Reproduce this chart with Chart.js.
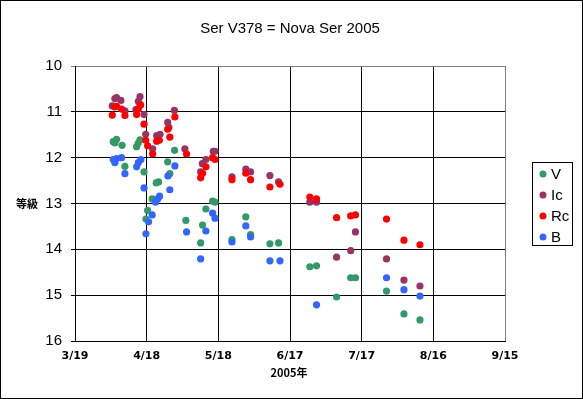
<!DOCTYPE html>
<html>
<head>
<meta charset="utf-8">
<script src="https://cdn.jsdelivr.net/npm/chart.js@4"></script>
<style>
    body { margin: 0; background: #fff; }
    canvas { display: block; }
</style>
</head>
<body>
<canvas id="novaChart" width="583" height="399"></canvas>
<script>
// x values are days after 3/19 (2005)
const xTickLabels = ['3/19', '4/18', '5/18', '6/17', '7/17', '8/16', '9/15'];
const seriesNames = ['V', 'Ic', 'Rc', 'B'];
const seriesColors = ['#339966', '#993366', '#FF0000', '#3366FF'];

const vDays = [16.0, 16.7, 17.4, 19.7, 20.9, 25.8, 26.5, 27.2, 28.9, 29.7, 30.4, 32.3, 34.0, 35.0, 38.8, 39.7, 41.7, 46.4, 52.6, 53.4, 54.8, 57.6, 58.6, 65.7, 71.5, 73.5, 81.6, 85.2, 98.3, 101.1, 109.5, 115.4, 117.4, 130.4, 137.7, 144.4];
const vMag = [11.65, 11.68, 11.60, 11.73, 12.19, 11.76, 11.68, 11.61, 12.31, 13.34, 13.15, 12.90, 12.55, 12.53, 12.09, 12.35, 11.84, 13.37, 13.86, 13.47, 13.12, 12.95, 12.97, 13.79, 13.29, 13.68, 13.88, 13.86, 14.38, 14.36, 15.04, 14.62, 14.62, 14.91, 15.41, 15.54];

const icDays = [15.6, 16.7, 17.4, 19.2, 20.9, 25.5, 26.5, 27.2, 27.2, 28.9, 29.6, 32.5, 34.2, 35.6, 38.8, 39.3, 41.6, 46.0, 52.6, 53.3, 54.8, 57.9, 58.6, 65.7, 71.5, 73.5, 81.6, 85.2, 98.3, 101.1, 109.5, 115.4, 117.4, 130.4, 137.7, 144.4];
const icMag = [10.87, 10.71, 10.69, 10.75, 10.98, 10.95, 10.77, 10.67, 10.85, 11.06, 11.49, 11.81, 11.52, 11.49, 11.23, 11.34, 10.97, 11.81, 12.31, 12.13, 12.04, 11.86, 11.86, 12.42, 12.25, 12.31, 12.39, 12.53, 12.97, 12.97, 14.17, 14.03, 13.62, 14.21, 14.67, 14.80];

const rcDays = [15.6, 16.7, 17.4, 19.5, 20.9, 25.8, 26.5, 27.5, 28.9, 29.6, 30.4, 32.5, 34.2, 35.3, 38.8, 39.7, 41.8, 46.7, 52.6, 53.4, 54.8, 57.6, 58.6, 65.7, 71.5, 73.5, 81.6, 85.8, 98.3, 101.1, 109.5, 115.4, 117.4, 130.4, 137.7, 144.4];
const rcMag = [11.07, 10.89, 10.88, 10.94, 11.08, 11.06, 10.94, 10.85, 11.27, 11.62, 11.74, 11.92, 11.64, 11.62, 11.38, 11.55, 11.11, 11.92, 12.44, 12.34, 12.20, 12.00, 12.04, 12.48, 12.34, 12.48, 12.64, 12.58, 12.86, 12.90, 13.31, 13.27, 13.25, 13.34, 13.80, 13.90];

const bDays = [16.0, 16.7, 17.4, 19.5, 20.9, 25.8, 26.5, 27.6, 28.9, 29.7, 30.8, 32.3, 33.7, 34.6, 35.4, 38.9, 39.7, 41.8, 46.7, 52.6, 54.8, 57.6, 58.6, 65.7, 71.5, 73.5, 81.6, 85.8, 101.1, 130.4, 137.7, 144.4];
const bMag = [12.04, 12.11, 12.02, 12.00, 12.35, 12.20, 12.11, 12.04, 12.66, 13.66, 13.40, 13.25, 12.97, 12.90, 12.84, 12.40, 12.70, 12.18, 13.62, 14.21, 13.60, 13.21, 13.32, 13.84, 13.49, 13.73, 14.25, 14.25, 15.21, 14.62, 14.88, 15.02];

const allDays = [vDays, icDays, rcDays, bDays];
const allMags = [vMag, icMag, rcMag, bMag];

function toPoints(days, mags) {
    return days.map((d, i) => ({ x: d, y: mags[i] }));
}

// title, y title, x title, legend box and outer frame
const extrasPlugin = {
    id: 'extras',
    afterDraw(chart) {
        const ctx = chart.ctx;
        ctx.save();
        ctx.fillStyle = '#000';
        ctx.textBaseline = 'middle';

        ctx.font = '15px "Liberation Sans", sans-serif';
        ctx.textAlign = 'center';
        ctx.fillText('Ser V378 = Nova Ser 2005', 290, 29);

        ctx.font = 'bold 11px "Noto Sans CJK JP", sans-serif';
        ctx.fillText('2005年', 289, 373);
        ctx.fillText('等級', 27, 204);

        // legend
        ctx.strokeStyle = '#000';
        ctx.lineWidth = 1;
        ctx.strokeRect(532.5, 162.5, 40, 83);
        ctx.textAlign = 'left';
        ctx.font = '15px "Liberation Sans", sans-serif';
        seriesNames.forEach((name, i) => {
            const y = 174 + i * 21;
            ctx.fillStyle = seriesColors[i];
            ctx.beginPath();
            ctx.arc(543, y, 3.5, 0, Math.PI * 2);
            ctx.fill();
            ctx.fillStyle = '#000';
            ctx.fillText(name, 551, y + 1);
        });

        ctx.strokeRect(0.5, 0.5, 582, 398);
        ctx.restore();
    }
};

const ctx = document.getElementById('novaChart').getContext('2d');
new Chart(ctx, {
    type: 'scatter',
    data: {
        datasets: seriesNames.map((name, i) => ({
            label: name,
            data: toPoints(allDays[i], allMags[i]),
            backgroundColor: seriesColors[i],
            borderColor: seriesColors[i],
            borderWidth: 0,
            pointRadius: 3.6,
            order: seriesNames.length - i
        }))
    },
    options: {
        responsive: false,
        animation: false,
        devicePixelRatio: 1,
        layout: {
            padding: { left: 0, top: 66, right: 78, bottom: 0 }
        },
        plugins: {
            legend: { display: false },
            title: { display: false },
            tooltip: { enabled: false }
        },
        scales: {
            x: {
                type: 'linear',
                min: 0,
                max: 180,
                afterFit: scale => { scale.height = 58; },
                ticks: {
                    stepSize: 30,
                    padding: 9,
                    color: '#000',
                    font: { family: 'DejaVu Sans', size: 11, weight: 'bold' },
                    maxRotation: 0,
                    callback: value => xTickLabels[value / 30]
                },
                grid: {
                    color: c => (c.tick && c.tick.value === 180 ? '#808080' : '#000'),
                    lineWidth: 1,
                    drawTicks: false
                },
                border: { color: '#000', width: 1 }
            },
            y: {
                reverse: true,
                min: 10,
                max: 16,
                afterFit: scale => { scale.width = 75; },
                ticks: {
                    stepSize: 1,
                    padding: 9,
                    color: '#000',
                    font: { family: 'Liberation Sans', size: 15 }
                },
                grid: {
                    color: c => (c.tick && c.tick.value === 10 ? '#808080' : '#000'),
                    lineWidth: 1,
                    tickLength: 4
                },
                border: { color: '#000', width: 1 }
            }
        }
    },
    plugins: [extrasPlugin]
});
</script>
</body>
</html>
